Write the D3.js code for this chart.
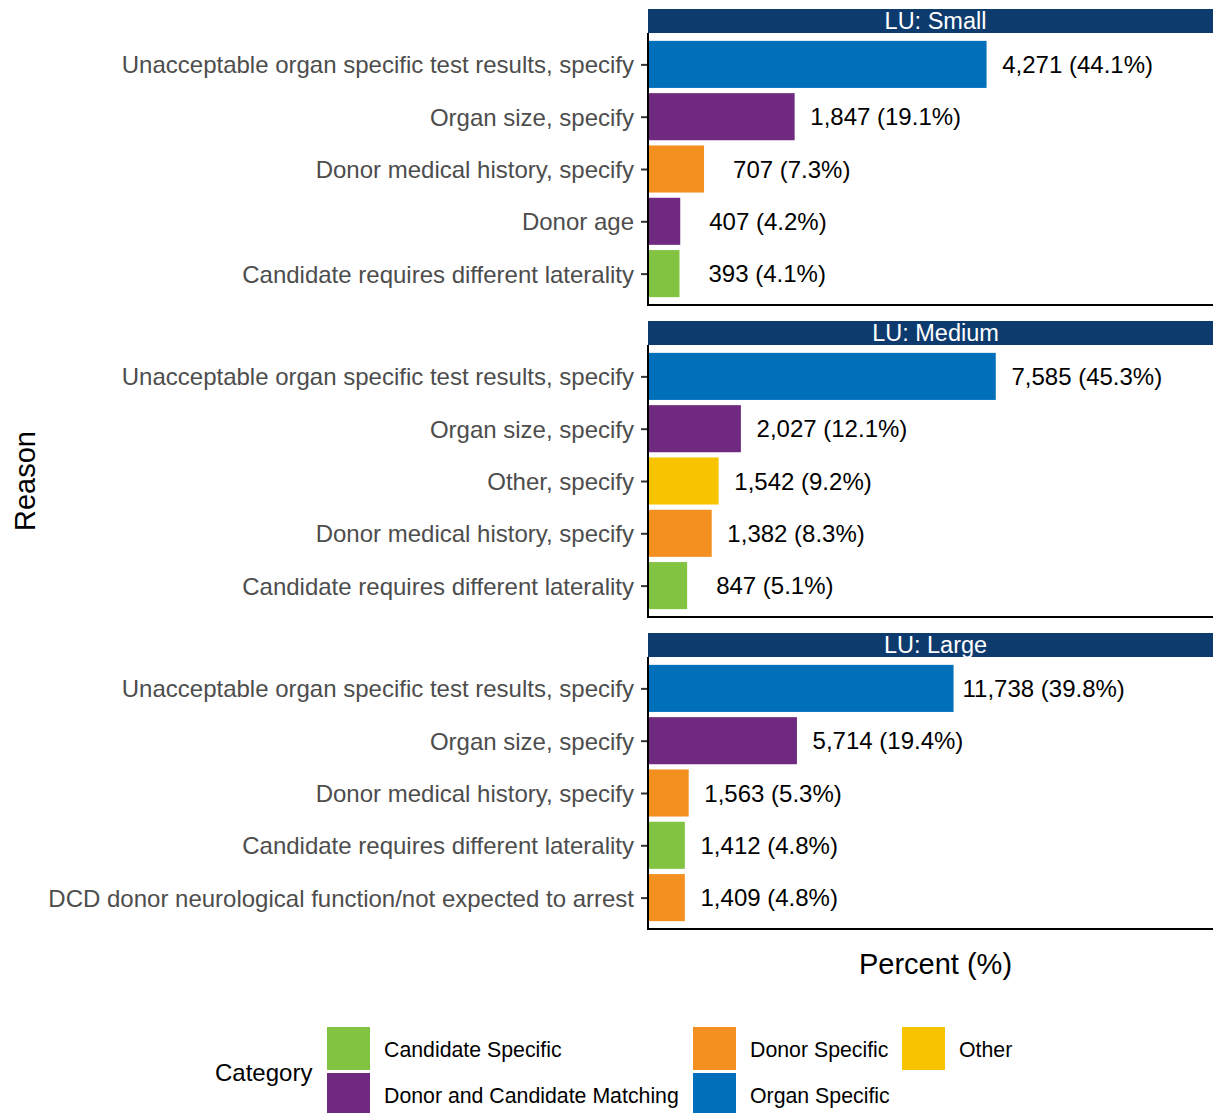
<!DOCTYPE html>
<html>
<head>
<meta charset="utf-8">
<script src="https://cdn.jsdelivr.net/npm/d3@7"></script>
<style>
  body { margin: 0; background: #fff; }
  svg { font-family: "Liberation Sans", Arial, sans-serif; }
</style>
</head>
<body>
<div id="chart"></div>
<script>
// panels
var panels = ["LU: Small", "LU: Medium", "LU: Large"];

// reasons per panel, top to bottom
var reasonsSmall = ["Unacceptable organ specific test results, specify", "Organ size, specify", "Donor medical history, specify", "Donor age", "Candidate requires different laterality"];
var reasonsMedium = ["Unacceptable organ specific test results, specify", "Organ size, specify", "Other, specify", "Donor medical history, specify", "Candidate requires different laterality"];
var reasonsLarge = ["Unacceptable organ specific test results, specify", "Organ size, specify", "Donor medical history, specify", "Candidate requires different laterality", "DCD donor neurological function/not expected to arrest"];

var countsSmall = [4271, 1847, 707, 407, 393];
var countsMedium = [7585, 2027, 1542, 1382, 847];
var countsLarge = [11738, 5714, 1563, 1412, 1409];

var pctSmall = [44.1, 19.1, 7.3, 4.2, 4.1];
var pctMedium = [45.3, 12.1, 9.2, 8.3, 5.1];
var pctLarge = [39.8, 19.4, 5.3, 4.8, 4.8];

var catSmall = ["Organ Specific", "Donor and Candidate Matching", "Donor Specific", "Donor and Candidate Matching", "Candidate Specific"];
var catMedium = ["Organ Specific", "Donor and Candidate Matching", "Other", "Donor Specific", "Candidate Specific"];
var catLarge = ["Organ Specific", "Donor and Candidate Matching", "Donor Specific", "Candidate Specific", "Donor Specific"];

var categories = ["Candidate Specific", "Donor and Candidate Matching", "Donor Specific", "Organ Specific", "Other"];
var catColors = ["#82C341", "#6F2A80", "#F3901F", "#0070BA", "#F8C300"];

var panelData = [
  {name: panels[0], reasons: reasonsSmall, counts: countsSmall, pct: pctSmall, cat: catSmall},
  {name: panels[1], reasons: reasonsMedium, counts: countsMedium, pct: pctMedium, cat: catMedium},
  {name: panels[2], reasons: reasonsLarge, counts: countsLarge, pct: pctLarge, cat: catLarge}
];

var width = 1213, height = 1113;
var svg = d3.select("#chart").append("svg")
  .attr("width", width).attr("height", height);

// panel runs a bit past the right edge of the picture
var left = 648, right = 1223;
var stripH = 24;
var panelTops = [9, 321, 633];
var panelH = 272;
var mid = (left + right) / 2;

var color = d3.scaleOrdinal().domain(categories).range(catColors);
var x = d3.scaleLinear().domain([0, 74.9]).range([left, right]);
var fmt = d3.format(",");

panelData.forEach(function(p, i) {
  var top = panelTops[i] + stripH;
  var g = svg.append("g");

  g.append("rect")
    .attr("x", left).attr("y", panelTops[i])
    .attr("width", right - left).attr("height", stripH)
    .attr("fill", "#0D3B6E");
  g.append("text")
    .attr("x", mid).attr("y", panelTops[i] + stripH / 2 + 8)
    .attr("text-anchor", "middle")
    .attr("fill", "#fff")
    .style("font-size", "23.5px")
    .text(p.name);

  // discrete scale with ggplot-like 0.6 expansion
  var y = d3.scalePoint().domain(p.reasons).range([top, top + panelH]).padding(0.6);
  var step = y.step();
  var bh = step * 0.9;

  var rows = p.reasons.map(function(r, j) {
    return {reason: r, count: p.counts[j], pct: p.pct[j], cat: p.cat[j]};
  });

  g.selectAll("rect.bar")
    .data(rows)
    .join("rect")
    .attr("class", "bar")
    .attr("x", x(0) + 1)
    .attr("y", d => y(d.reason) - bh / 2)
    .attr("width", d => x(d.pct) - x(0) - 1)
    .attr("height", bh)
    .attr("fill", d => color(d.cat));

  // counts are padded to a fixed width, as in the original labels
  g.selectAll("text.val")
    .data(rows)
    .join("text")
    .attr("class", "val")
    .attr("x", d => x(d.pct) + 9)
    .attr("y", d => y(d.reason) + 8.5)
    .attr("fill", "#000")
    .style("font-size", "24px")
    .style("white-space", "pre")
    .text(d => fmt(d.count).padStart(6, " ") + " (" + d.pct.toFixed(1) + "%)");

  var yAxis = d3.axisLeft(y).tickSize(7).tickPadding(7);
  var ax = g.append("g")
    .attr("transform", "translate(" + left + ",0)")
    .call(yAxis);
  ax.select(".domain").remove();
  ax.selectAll(".tick line").attr("stroke", "#333").attr("stroke-width", 2);
  ax.selectAll(".tick text")
    .attr("fill", "#4D4D4D")
    .style("font-size", "24px")
    .attr("dy", "0.35em");

  // panel border: left and bottom
  g.append("path")
    .attr("d", "M" + left + "," + top + "V" + (top + panelH) + "H" + right)
    .attr("fill", "none")
    .attr("stroke", "#000")
    .attr("stroke-width", 2);
});

svg.append("text")
  .attr("transform", "translate(35,481) rotate(-90)")
  .attr("text-anchor", "middle")
  .style("font-size", "29px")
  .text("Reason");

svg.append("text")
  .attr("x", mid).attr("y", 974)
  .attr("text-anchor", "middle")
  .style("font-size", "29px")
  .text("Percent (%)");

// legend
var lg = svg.append("g");
lg.append("text")
  .attr("x", 215).attr("y", 1081)
  .style("font-size", "24px")
  .text("Category");

var legendPos = [
  {x: 327, y: 1027}, {x: 327, y: 1073},
  {x: 693, y: 1027}, {x: 693, y: 1073},
  {x: 902, y: 1027}
];
categories.forEach(function(c, i) {
  var pos = legendPos[i];
  lg.append("rect")
    .attr("x", pos.x).attr("y", pos.y)
    .attr("width", 43).attr("height", 43)
    .attr("fill", color(c));
  lg.append("text")
    .attr("x", pos.x + 57).attr("y", pos.y + 30)
    .style("font-size", "21.3px")
    .text(c);
});
</script>
</body>
</html>
